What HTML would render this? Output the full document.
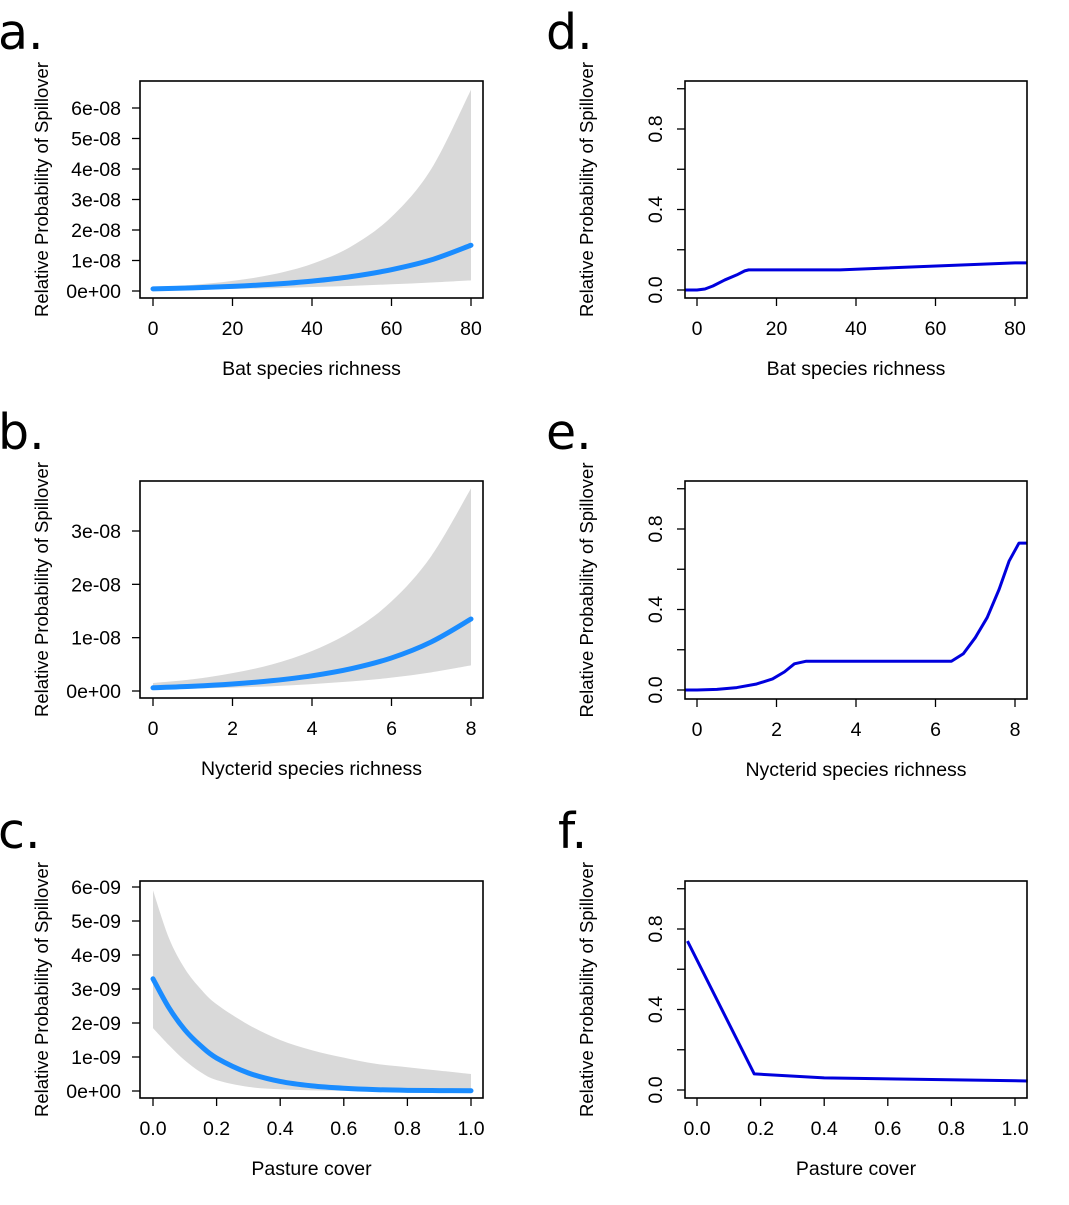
<!DOCTYPE html>
<html><head><meta charset="utf-8"><style>
body{margin:0;background:#fff;}
svg text{font-family:"Liberation Sans",sans-serif;fill:#000;}
.big{font-family:"DejaVu Sans",sans-serif;font-size:49px;}
</style></head><body>
<svg id="fig" width="1069" height="1200" xmlns="http://www.w3.org/2000/svg">
<text class="big" x="-2" y="49">a.</text>
<text class="big" x="546" y="49">d.</text>
<text class="big" x="-2" y="449">b.</text>
<text class="big" x="546" y="449">e.</text>
<text class="big" x="-2" y="848">c.</text>
<text class="big" x="558" y="848">f.</text>
</svg>
<script>
// Panel a data (units 1e-8)
const aX = [0,10,20,30,40,50,60,70,80];
const aMean = [0.07,0.103,0.150,0.221,0.324,0.475,0.70,1.02,1.50];
const aUpper = [0.12,0.20,0.33,0.54,0.89,1.47,2.43,4.0,6.6];
const aLower = [0.04,0.05,0.07,0.09,0.13,0.17,0.22,0.28,0.35];
const aYTicks = ["0e+00","1e-08","2e-08","3e-08","4e-08","5e-08","6e-08"];
const aXTicks = [0,20,40,60,80];
// Panel b data (units 1e-8)
const bX = [0,1,2,3,4,5,6,7,8];
const bMean = [0.06,0.088,0.131,0.194,0.285,0.42,0.62,0.92,1.35];
const bUpper = [0.15,0.22,0.335,0.50,0.75,1.12,1.68,2.53,3.8];
const bLower = [0.03,0.045,0.064,0.09,0.13,0.18,0.25,0.35,0.48];
const bYTicks = ["0e+00","1e-08","2e-08","3e-08"];
const bXTicks = [0,2,4,6,8];
// Panel c data (units 1e-9)
const cX = [0,0.05,0.1,0.15,0.2,0.3,0.4,0.5,0.6,0.7,0.8,0.9,1.0];
const cMean = [3.3,2.45,1.8,1.33,0.97,0.53,0.28,0.15,0.08,0.04,0.02,0.012,0.007];
const cUpper = [5.9,4.5,3.6,3.0,2.55,1.95,1.5,1.2,0.98,0.8,0.7,0.6,0.5];
const cLower = [1.85,1.35,0.9,0.55,0.32,0.12,0.05,0.02,0.01,0,0,0,0];
const cYTicks = ["0e+00","1e-09","2e-09","3e-09","4e-09","5e-09","6e-09"];
const cXTicks = ["0.0","0.2","0.4","0.6","0.8","1.0"];
// Panel d
const dX = [-3,0,2,4,7,10,12,13,36,80,83];
const dY = [0,0,0.005,0.02,0.05,0.075,0.095,0.1,0.1,0.135,0.135];
// Panel e
const eX = [-0.3,0,0.5,1,1.5,1.9,2.2,2.45,2.75,6.4,6.7,7,7.3,7.6,7.85,8.1,8.3];
const eY = [0,0,0.003,0.012,0.03,0.055,0.09,0.13,0.143,0.143,0.18,0.26,0.36,0.5,0.64,0.73,0.73];
// Panel f
const fX = [-0.03,0.18,0.4,1.04];
const fY = [0.74,0.08,0.06,0.045];
const pdYTicks = ["0.0","0.4","0.8"];

const svg = document.getElementById('fig');
const NS = 'http://www.w3.org/2000/svg';
function mk(tag, attrs, parent){const e=document.createElementNS(NS,tag);for(const k in attrs)e.setAttribute(k,attrs[k]);(parent||svg).appendChild(e);return e;}
function txt(s,attrs,parent){const e=mk('text',attrs,parent);e.textContent=s;return e;}
// smooth path through points (Catmull-Rom -> cubic bezier)
function smooth(pts, start){
  let d = (start?'M':'L')+pts[0][0]+','+pts[0][1];
  for(let i=0;i<pts.length-1;i++){
    const p0=pts[Math.max(0,i-1)],p1=pts[i],p2=pts[i+1],p3=pts[Math.min(pts.length-1,i+2)];
    const c1=[p1[0]+(p2[0]-p0[0])/6,p1[1]+(p2[1]-p0[1])/6];
    const c2=[p2[0]-(p3[0]-p1[0])/6,p2[1]-(p3[1]-p1[1])/6];
    d+='C'+c1[0]+','+c1[1]+' '+c2[0]+','+c2[1]+' '+p2[0]+','+p2[1];
  }
  return d;
}

function panel(o){
  const g = mk('g',{});
  
  
  const sx = v => o.x0px + (v - o.xmin)*(o.x1px-o.x0px)/(o.xmax-o.xmin);
  const sy = v => o.y0px - (v - o.ymin)*(o.y0px-o.y1px)/(o.ymax-o.ymin);
  let lineD;
  if(o.band){
    const up=o.xs.map((x,i)=>[sx(x),sy(o.up[i])]);
    const lo=o.xs.map((x,i)=>[sx(x),sy(o.lo[i])]).reverse();
    const p = mk('path',{d:smooth(up,true)+smooth(lo,false)+'Z',fill:'#d9d9d9',stroke:'none'},g);
    
    
    lineD = smooth(o.xs.map((x,i)=>[sx(x),sy(o.ys[i])]),true);
  } else {
    lineD = 'M'+o.xs.map((x,i)=>sx(x)+','+sy(o.ys[i])).join('L');
  }
  const ln = mk('path',{d:lineD,fill:'none',stroke:o.col,'stroke-width':o.lw,'stroke-linecap':o.band?'round':'butt','stroke-linejoin':'round'},g);
  
  
  const box = mk('rect',{x:o.bx,y:o.by,width:o.bw,height:o.bh,fill:'none',stroke:'#000','stroke-width':1.6},g);
  
  
  o.xt.forEach(t=>{const v=parseFloat(t);const X=sx(v);
    mk('line',{x1:X,x2:X,y1:o.by+o.bh,y2:o.by+o.bh+8,stroke:'#000','stroke-width':1.3},g);
    const tl=txt(String(t),{x:X,y:o.by+o.bh+37,'font-size':19.5,'text-anchor':'middle'},g);
    
    
  });
  o.yt.forEach((t,i)=>{const v=o.ytv[i];const Y=sy(v);
    mk('line',{x1:o.bx,x2:o.bx-8,y1:Y,y2:Y,stroke:'#000','stroke-width':1.3},g);
    if(t!==null){
      let tl;
      if(o.rotY) tl=txt(t,{x:o.bx-23,y:Y,'font-size':19.5,'text-anchor':'middle',transform:`rotate(-90 ${o.bx-23} ${Y})`},g);
      else tl=txt(t,{x:o.bx-19,y:Y+7,'font-size':19.5,'text-anchor':'end'},g);
      
      
    }
  });
  const xl=txt(o.xlab,{x:o.bx+o.bw/2,y:o.by+o.bh+77,'font-size':19.5,'text-anchor':'middle'},g);
  
  
  const cy=o.by+o.bh/2, cx=o.bx-92;
  const yl=txt('Relative Probability of Spillover',{x:cx,y:cy,'font-size':18.5,'text-anchor':'middle',transform:`rotate(-90 ${cx} ${cy})`},g);
  
  
}
const L={bx:140,bw:343,x0px:153,x1px:471,band:true,col:'#1a8cff',lw:5};
const R={bx:685,bw:342,x0px:697,x1px:1015,band:false,col:'#0000dd',lw:3,rotY:true,ymin:0,ymax:0.8};
const pdTickVals=[0,0.2,0.4,0.6,0.8,1.0];
const pdTickLabels=[pdYTicks[0],null,pdYTicks[1],null,pdYTicks[2],null];

panel(Object.assign({},L,{name:'panel-a',by:81,bh:217,y0px:291,y1px:108,xmin:0,xmax:80,ymin:0,ymax:6,xs:aX,ys:aMean,up:aUpper,lo:aLower,xt:aXTicks,yt:aYTicks,ytv:aYTicks.map((t,i)=>i),xlab:'Bat species richness'}));
panel(Object.assign({},L,{name:'panel-b',by:481,bh:217,y0px:691,y1px:531,xmin:0,xmax:8,ymin:0,ymax:3,xs:bX,ys:bMean,up:bUpper,lo:bLower,xt:bXTicks,yt:bYTicks,ytv:bYTicks.map((t,i)=>i),xlab:'Nycterid species richness'}));
panel(Object.assign({},L,{name:'panel-c',by:881,bh:217,y0px:1091,y1px:887,xmin:0,xmax:1,ymin:0,ymax:6,xs:cX,ys:cMean,up:cUpper,lo:cLower,xt:cXTicks,yt:cYTicks,ytv:cYTicks.map((t,i)=>i),xlab:'Pasture cover'}));
panel(Object.assign({},R,{name:'panel-d',by:81,bh:217,y0px:290,y1px:129,xmin:0,xmax:80,xs:dX,ys:dY,xt:aXTicks,yt:pdTickLabels,ytv:pdTickVals,xlab:'Bat species richness'}));
panel(Object.assign({},R,{name:'panel-e',by:481,bh:218,y0px:690,y1px:529,xmin:0,xmax:8,xs:eX,ys:eY,xt:bXTicks,yt:pdTickLabels,ytv:pdTickVals,xlab:'Nycterid species richness'}));
panel(Object.assign({},R,{name:'panel-f',by:881,bh:217,y0px:1090,y1px:929,xmin:0,xmax:1,xs:fX,ys:fY,xt:cXTicks,yt:pdTickLabels,ytv:pdTickVals,xlab:'Pasture cover'}));
</script>
</body></html>
